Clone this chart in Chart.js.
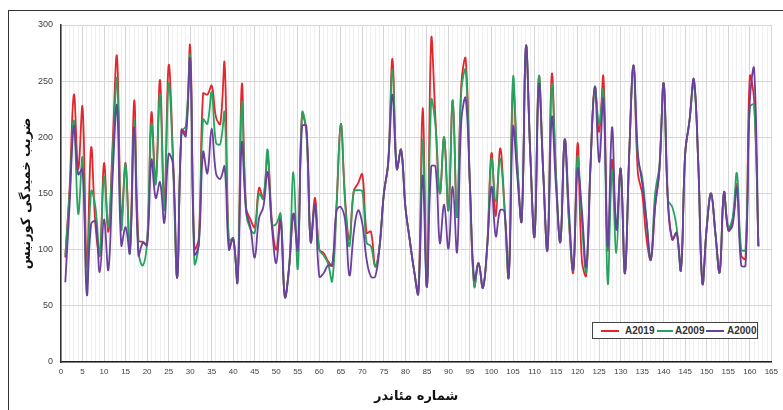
<!DOCTYPE html>
<html>
<head>
<meta charset="utf-8">
<script src="https://cdn.jsdelivr.net/npm/chart.js@4.4.1/dist/chart.umd.min.js"></script>
<style>
html,body{margin:0;padding:0;background:#fff;overflow:hidden;}
#wrap{position:relative;width:783px;height:410px;overflow:hidden;}
#frame{position:absolute;left:8px;top:10px;width:820px;height:430px;border-top:1.5px solid #333;border-left:1.5px solid #333;box-sizing:border-box;}
#c{position:absolute;left:0;top:0;}
#legend{position:absolute;left:592px;top:322px;width:166px;height:17px;border:1px solid #444;background:#fff;box-sizing:border-box;font:bold 10px 'Liberation Sans',Arial,sans-serif;color:#333;}
#legend span{position:absolute;top:2px;line-height:12px;}
#legend b{position:absolute;top:7px;height:2px;display:block;}
</style>
</head>
<body>
<div id="wrap">
<div id="frame"></div>
<canvas id="c" width="783" height="410"></canvas>
<div id="legend">
<b style="left:8px;width:18px;background:#e3262b"></b><span style="left:32px">A2019</span>
<b style="left:64px;width:16px;background:#27a35f"></b><span style="left:82px">A2009</span>
<b style="left:113px;width:18px;background:#6a3f9e"></b><span style="left:134px">A2000</span>
</div>
</div>
<script>
// Meander numbers (categories)
const meanderNo = Array.from({length: 162}, (_, i) => i + 1);

const seriesNames = ['A2019', 'A2009', 'A2000'];

const A2019 = [
 93,155,238,172,227, 85,191,122, 95,177,
116,195,272,125,177,100,233,108,107,105,
222,160,251,140,264,185, 76,207,204,281,
101,110,239,238,246,218,212,266,103,110,
 72,247,137,127,120,155,146,183,125,100,
130, 58, 85,132,100,220,205,107,146,100,
 97, 90, 86,140,212,145,109,152,159,167,
115,116, 85,103,150,177,270,172,189,138,
109, 82, 63,226, 67,288,215,150,200,135,
233,129,248,270,156, 68, 88, 66,103,186,
130,190,140, 76,245,175,126,281,186,112,
254,170,100,256,165,107,198,125, 80,195,
 90, 77,175,245,205,254,100,180,118,172,
 79,186,264,168,150,110, 91,138,171,248,
144,109,115, 82,186,215,251,180, 70,120,
150,115, 80,151,118,125,158, 95, 92,254,
233,103
];

const A2009 = [
 95,150,215,132,182, 70,152,138, 95,165,
120,185,252,118,176, 97,215, 98, 86,108,
212,158,238,135,248,180, 76,205,210,272,
 88,105,216,212,240,195,194,222,108,110,
 72,231,133,118,115,150,145,189,122,123,
132, 58, 85,169, 83,222,205,107,140,100,
 95, 88, 72,138,212,141,103,152,153,152,
106,103, 85,103,150,177,260,172,189,138,
109, 82, 61,198, 67,233,210,150,200,135,
233,129,242,260,156, 67, 88, 66,103,181,
143,181,138, 76,253,178,126,281,186,112,
254,170,100,247,165,107,198,125, 82,183,
125, 80,175,245,212,242, 70,171, 97,172,
 79,186,264,180,165,126, 91,150,175,248,
144,138,120, 82,186,215,248,180, 70,120,
150,115, 80,151,120,128,168,100,100,227,
229,103
];

const A2000 = [
 71,140,210,167,172, 60,123,125, 80,127,
 82,165,228,104,120, 97,209, 95,106,104,
180,146,160,124,185,176, 75,206,201,269,
 96,104,187,168,208,168,163,174,100,110,
 71,195,135,120, 93,128,138,169,120, 88,
126, 58, 85,132,100,210,210,107,140, 76,
 79, 86, 86,135,138,126, 77,115,135,123,
 91, 76, 76,103,150,177,238,172,189,138,
109, 82, 61,166, 67,174,174,106,140,101,
156, 98,215,235,156, 73, 88, 66,103,156,
112,135,134, 76,209,165,126,281,186,112,
247,170,100,218,155,107,198,135, 82,172,
135, 85,175,245,178,234,103,209,118,172,
 79,186,264,186,159,126, 91,138,171,248,
140,109,115, 82,186,215,252,180, 70,120,
150,115, 80,151,117,122,155, 86, 86,232,
261,103
];

const seriesColors = ['#e3262b', '#27a35f', '#6a3f9e'];
const xTickLabels = [0,5,10,15,20,25,30,35,40,45,50,55,60,65,70,75,80,85,90,95,100,105,110,115,120,125,130,135,140,145,150,155,160,165];
const yTickLabels = [0,50,100,150,200,250,300];
const xTitle = 'شماره مئاندر';
const yTitle = 'ضریب خمیدگی کورنیس';

const seriesData = [A2019, A2009, A2000];
const datasets = seriesNames.map((name, k) => ({
  label: name,
  data: seriesData[k].map((v, i) => ({x: meanderNo[i], y: v})),
  borderColor: seriesColors[k],
  backgroundColor: seriesColors[k],
  borderWidth: 1.8,
  pointRadius: 0,
  tension: 0.4,
  fill: false,
  order: 3 - k
}));

new Chart(document.getElementById('c'), {
  type: 'line',
  data: { datasets },
  options: {
    responsive: false,
    animation: false,
    devicePixelRatio: 1,
    layout: { padding: { left: 0, top: 25, right: 11, bottom: 0 } },
    plugins: { legend: { display: false }, tooltip: { enabled: false } },
    scales: {
      x: {
        type: 'linear', min: 0, max: 165,
        afterFit: s => { s.height = 48; },
        ticks: {
          stepSize: 1, autoSkip: false, maxRotation: 0, minRotation: 0,
          padding: 5, color: '#404040',
          font: { family: "'Liberation Sans', Arial, sans-serif", size: 8 },
          callback: v => xTickLabels.includes(v) ? String(v) : ''
        },
        grid: {
          drawTicks: false,
          color: c => (c.tick && xTickLabels.includes(c.tick.value)) ? '#d6d6d6' : '#efefef',
          lineWidth: 1
        },
        border: { color: '#222', width: 1.5 },
        title: {
          display: true, text: xTitle, color: '#111',
          font: { family: "'DejaVu Sans', sans-serif", size: 13, weight: 'bold' },
          padding: { top: 0, bottom: 6 }
        }
      },
      y: {
        min: 0, max: 300,
        afterFit: s => { s.width = 61; },
        ticks: {
          stepSize: 50, padding: 8, color: '#404040',
          font: { family: "'Liberation Sans', Arial, sans-serif", size: 9 },
          callback: v => yTickLabels.includes(v) ? String(v) : ''
        },
        grid: { drawTicks: false, color: '#d6d6d6', lineWidth: 1 },
        border: { color: '#333', width: 1.5 },
        title: {
          display: true, text: yTitle, color: '#111',
          font: { family: "'DejaVu Sans', sans-serif", size: 13, weight: 'bold' },
          padding: { top: 19, bottom: 0 }
        }
      }
    }
  }
});
</script>
</body>
</html>
